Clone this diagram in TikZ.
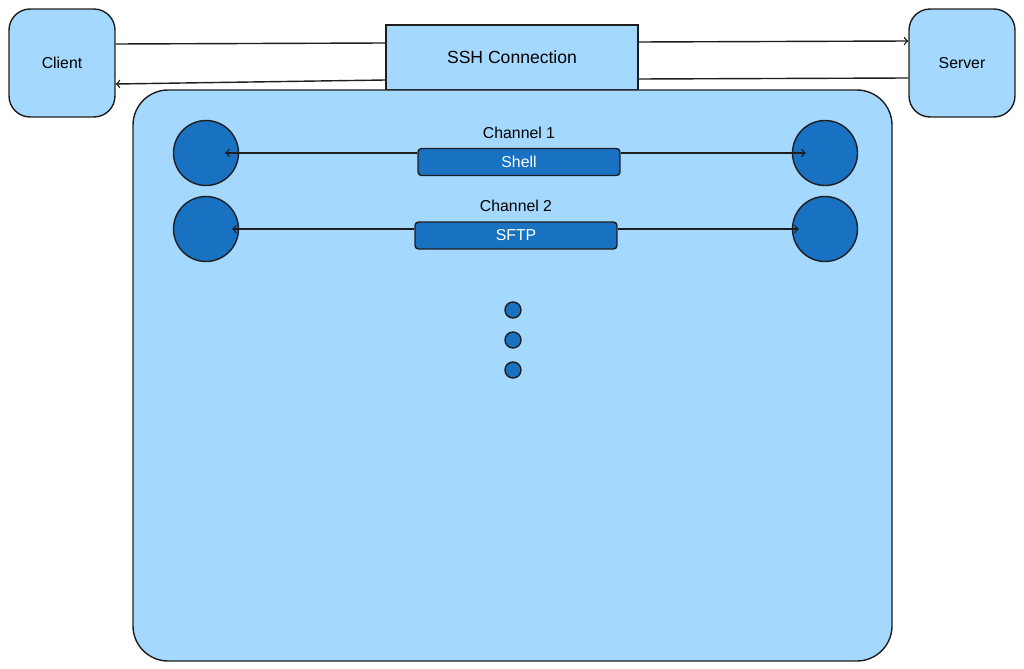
\documentclass[tikz,border=0pt]{standalone}
\usepackage{fontspec}
\setmainfont{Liberation Sans}
\usetikzlibrary{positioning}
\definecolor{lightblue}{HTML}{A5D8FF}
\definecolor{darkblue}{HTML}{1971C2}
\definecolor{ink}{HTML}{1E1E1E}
\begin{document}
\begin{tikzpicture}[x=0.02cm,y=-0.02cm,
    box/.style={draw=ink,thick,fill=lightblue,rounded corners=12pt,minimum width=2.12cm,minimum height=2.16cm,font=\small},
    end/.style={circle,draw=ink,thick,fill=darkblue,minimum size=1.3cm,inner sep=0pt},
    chan/.style={draw=ink,thick,fill=darkblue,rounded corners=2pt,minimum width=4.04cm,minimum height=0.54cm,text=white,font=\small},
    dot/.style={circle,draw=ink,thick,fill=darkblue,minimum size=0.32cm,inner sep=0pt},
    arr/.style={draw=ink,thick,->}]
    \useasboundingbox (0,0) rectangle (1024,669);
    % connection endpoints
    \node[box] (client) at (62,63) {Client};
    \node[box] (server) at (962,63) {Server};
    \node[draw=ink,thick,fill=lightblue,minimum width=5.04cm,minimum height=1.3cm] (ssh) at (512,57.5) {SSH Connection};
    \draw[arr,-] (client.east |- 0,44) -- (ssh.west |- 0,43);
    \draw[arr] (ssh.east |- 0,42) -- (server.west |- 0,41);
    \draw[arr,-] (server.west |- 0,78) -- (ssh.east |- 0,79);
    \draw[arr] (ssh.west |- 0,80) -- (client.east |- 0,84);
    % channels
    \draw[draw=ink,thick,fill=lightblue,rounded corners=20pt] (133,90) rectangle (892,661);
    \node[end] (c1) at (206,153) {};
    \node[end] (s1) at (825,153) {};
    \node[end] (c2) at (206,229) {};
    \node[end] (s2) at (825,229) {};
    \node[chan] (shell) at (519,162) {Shell};
    \node[chan] (sftp) at (516,235.5) {SFTP};
    \node[font=\small,above=0.06cm of shell] {Channel 1};
    \node[font=\small,above=0.06cm of sftp] {Channel 2};
    \draw[arr] (shell.west |- c1) -- ([xshift=-8pt]c1.east);
    \draw[arr] (shell.east |- s1) -- ([xshift=8pt]s1.west);
    \draw[arr] (sftp.west |- c2) -- ([xshift=-4pt]c2.east);
    \draw[arr] (sftp.east |- s2) -- ([xshift=4pt]s2.west);
    \foreach \y in {310,340,370}
        \node[dot] at (513,\y) {};
\end{tikzpicture}
\end{document}
